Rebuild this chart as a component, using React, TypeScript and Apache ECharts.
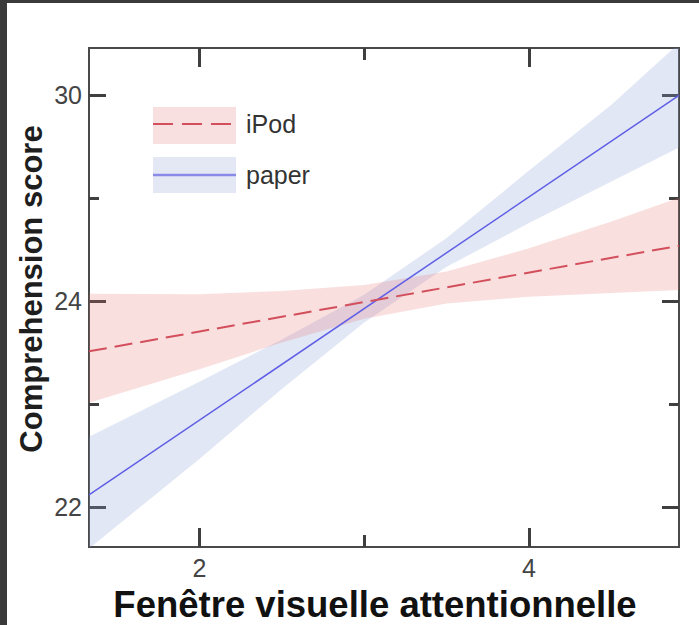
import React, { useEffect, useRef } from "react";
import * as echarts from "echarts";

// ---- data ----
const seriesNames = ["iPod", "paper"];
const bandX = [1.33, 2, 2.5, 3, 3.5, 4, 4.5, 4.91];
const paperUpper = [23.37, 24.44, 25.26, 26.13, 27.23, 28.54, 29.82, 31.01];
const paperLower = [21.2, 22.94, 24.3, 25.59, 26.67, 27.52, 28.33, 28.99];
const ipodUpper = [26.15, 26.14, 26.2, 26.32, 26.58, 27.03, 27.55, 28.01];
const ipodLower = [24.03, 24.68, 25.2, 25.66, 25.96, 26.09, 26.16, 26.22];
const fitX = [1.33, 4.91];
const ipodFit = [25.03, 27.08];
const paperFit = [22.24, 30.0];

const xMajorTicks = [2, 4];
const xMajorLabels = ["2", "4"];
const xMinorTicks = [3];
const yMajorTicks = [22, 26, 30];
const yMajorLabels = ["22", "24", "30"];
const yMinorTicks = [24, 28];

const xRange = [1.33, 4.91];
const yRange = [21.23, 30.92];

const xTitle = "Fenêtre visuelle attentionnelle";
const yTitle = "Comprehension score";

const FONT = '"Liberation Sans", Arial, Helvetica, sans-serif';
const AX = "#3f3f3f";

function pairs(xs: number[], ys: number[]) {
  return xs.map((x, i) => [x, ys[i]]);
}

function xAxisDef(position: "top" | "bottom", ticks: number[], len: number, labels: boolean) {
  return {
    type: "value",
    position,
    min: xRange[0],
    max: xRange[1],
    axisLine: { show: false },
    splitLine: { show: false },
    axisTick: { show: true, inside: true, length: len, customValues: ticks, lineStyle: { color: AX, width: 3 } },
    axisLabel: labels
      ? {
          show: true,
          customValues: xMajorTicks,
          formatter: (v: number) => {
            const i = xMajorTicks.findIndex((t) => Math.abs(t - v) < 1e-6);
            return i >= 0 ? xMajorLabels[i] : "";
          },
          fontSize: 25,
          color: "#444",
          fontFamily: FONT,
          margin: 8,
        }
      : { show: false },
  };
}

function yAxisDef(position: "left" | "right", ticks: number[], len: number, labels: boolean) {
  return {
    type: "value",
    position,
    min: yRange[0],
    max: yRange[1],
    axisLine: { show: false },
    splitLine: { show: false },
    axisTick: { show: true, inside: true, length: len, customValues: ticks, lineStyle: { color: AX, width: 3 } },
    axisLabel: labels
      ? {
          show: true,
          customValues: yMajorTicks,
          formatter: (v: number) => {
            const i = yMajorTicks.findIndex((t) => Math.abs(t - v) < 1e-6);
            return i >= 0 ? yMajorLabels[i] : "";
          },
          fontSize: 25,
          color: "#444",
          fontFamily: FONT,
          margin: 7,
        }
      : { show: false },
  };
}

const PINK = "rgba(232,110,110,0.22)";
const BLUE = "rgba(140,160,215,0.25)";
const RED = "#d24f5b";
const BLUE_LINE = "#5f5fe6";

function bandSeries(name: string, upper: number[], lower: number[], color: string, z: number) {
  return {
    type: "custom",
    name,
    clip: true,
    silent: true,
    z,
    data: [[bandX[0], upper[0]]],
    renderItem: (_params: any, api: any) => {
      const pts: number[][] = [];
      for (let i = 0; i < bandX.length; i++) pts.push(api.coord([bandX[i], upper[i]]));
      for (let i = bandX.length - 1; i >= 0; i--) pts.push(api.coord([bandX[i], lower[i]]));
      return {
        type: "polygon",
        shape: { points: pts },
        style: { fill: color, stroke: "none" },
      };
    },
  };
}

export default function App() {
  const ref = useRef<HTMLDivElement>(null);
  useEffect(() => {
    const chart = echarts.init(ref.current!, null, { renderer: "svg" });
    const option: any = {
      animation: false,
      backgroundColor: "#ffffff",
      grid: {
        left: 89,
        top: 48,
        width: 590,
        height: 499,
        show: true,
        borderColor: "#4a4a4a",
        borderWidth: 2,
        backgroundColor: "transparent",
      },
      xAxis: [
        xAxisDef("bottom", xMajorTicks, 19, true),
        xAxisDef("bottom", xMinorTicks, 12, false),
        xAxisDef("top", xMajorTicks, 19, false),
        xAxisDef("top", xMinorTicks, 12, false),
      ],
      yAxis: [
        yAxisDef("left", yMajorTicks, 17, true),
        yAxisDef("left", yMinorTicks, 10, false),
        yAxisDef("right", yMajorTicks, 17, false),
        yAxisDef("right", yMinorTicks, 10, false),
      ],
      series: [
        bandSeries("paperBand", paperUpper, paperLower, BLUE, 1),
        bandSeries("ipodBand", ipodUpper, ipodLower, PINK, 2),
        {
          type: "line",
          name: seriesNames[1],
          data: pairs(fitX, paperFit),
          symbol: "none",
          lineStyle: { color: BLUE_LINE, width: 1.5 },
          z: 5,
        },
        {
          type: "line",
          name: seriesNames[0],
          data: pairs(fitX, ipodFit),
          symbol: "none",
          lineStyle: { color: RED, width: 2, type: [18, 8] },
          z: 6,
        },
      ],
      graphic: [
        { type: "rect", shape: { x: 0, y: 0, width: 699, height: 3 }, style: { fill: "#3a3a3a" }, z: 100 },
        { type: "rect", shape: { x: 0, y: 0, width: 7, height: 625 }, style: { fill: "#3a3a3a" }, z: 100 },
        // legend
        { type: "rect", shape: { x: 153, y: 107, width: 83, height: 37 }, style: { fill: "#f9e0e0" }, z: 50 },
        {
          type: "line",
          shape: { x1: 153, y1: 124, x2: 236, y2: 124 },
          style: { stroke: RED, lineWidth: 2, lineDash: [20, 9] },
          z: 51,
        },
        {
          type: "text",
          x: 246,
          y: 124,
          style: { text: seriesNames[0], font: `25px ${FONT}`, fill: "#333", textAlign: "left", textVerticalAlign: "middle" },
          z: 51,
        },
        { type: "rect", shape: { x: 153, y: 157, width: 83, height: 36 }, style: { fill: "#e4e8f4" }, z: 50 },
        {
          type: "line",
          shape: { x1: 153, y1: 175, x2: 236, y2: 175 },
          style: { stroke: "#8a8ae8", lineWidth: 2.5 },
          z: 51,
        },
        {
          type: "text",
          x: 246,
          y: 175,
          style: { text: seriesNames[1], font: `25px ${FONT}`, fill: "#333", textAlign: "left", textVerticalAlign: "middle" },
          z: 51,
        },
        // axis titles
        {
          type: "text",
          x: 31,
          y: 289,
          rotation: Math.PI / 2,
          style: { text: yTitle, font: `bold 31px ${FONT}`, fill: "#1e1e1e", textAlign: "center", textVerticalAlign: "middle" },
          z: 51,
        },
        {
          type: "text",
          x: 375,
          y: 604,
          style: { text: xTitle, font: `bold 36.5px ${FONT}`, fill: "#111", textAlign: "center", textVerticalAlign: "middle" },
          z: 51,
        },
      ],
    };
    chart.setOption(option);
    return () => chart.dispose();
  }, []);
  return <div ref={ref} style={{ position: "absolute", left: 0, top: 0, width: 699, height: 625 }} />;
}
